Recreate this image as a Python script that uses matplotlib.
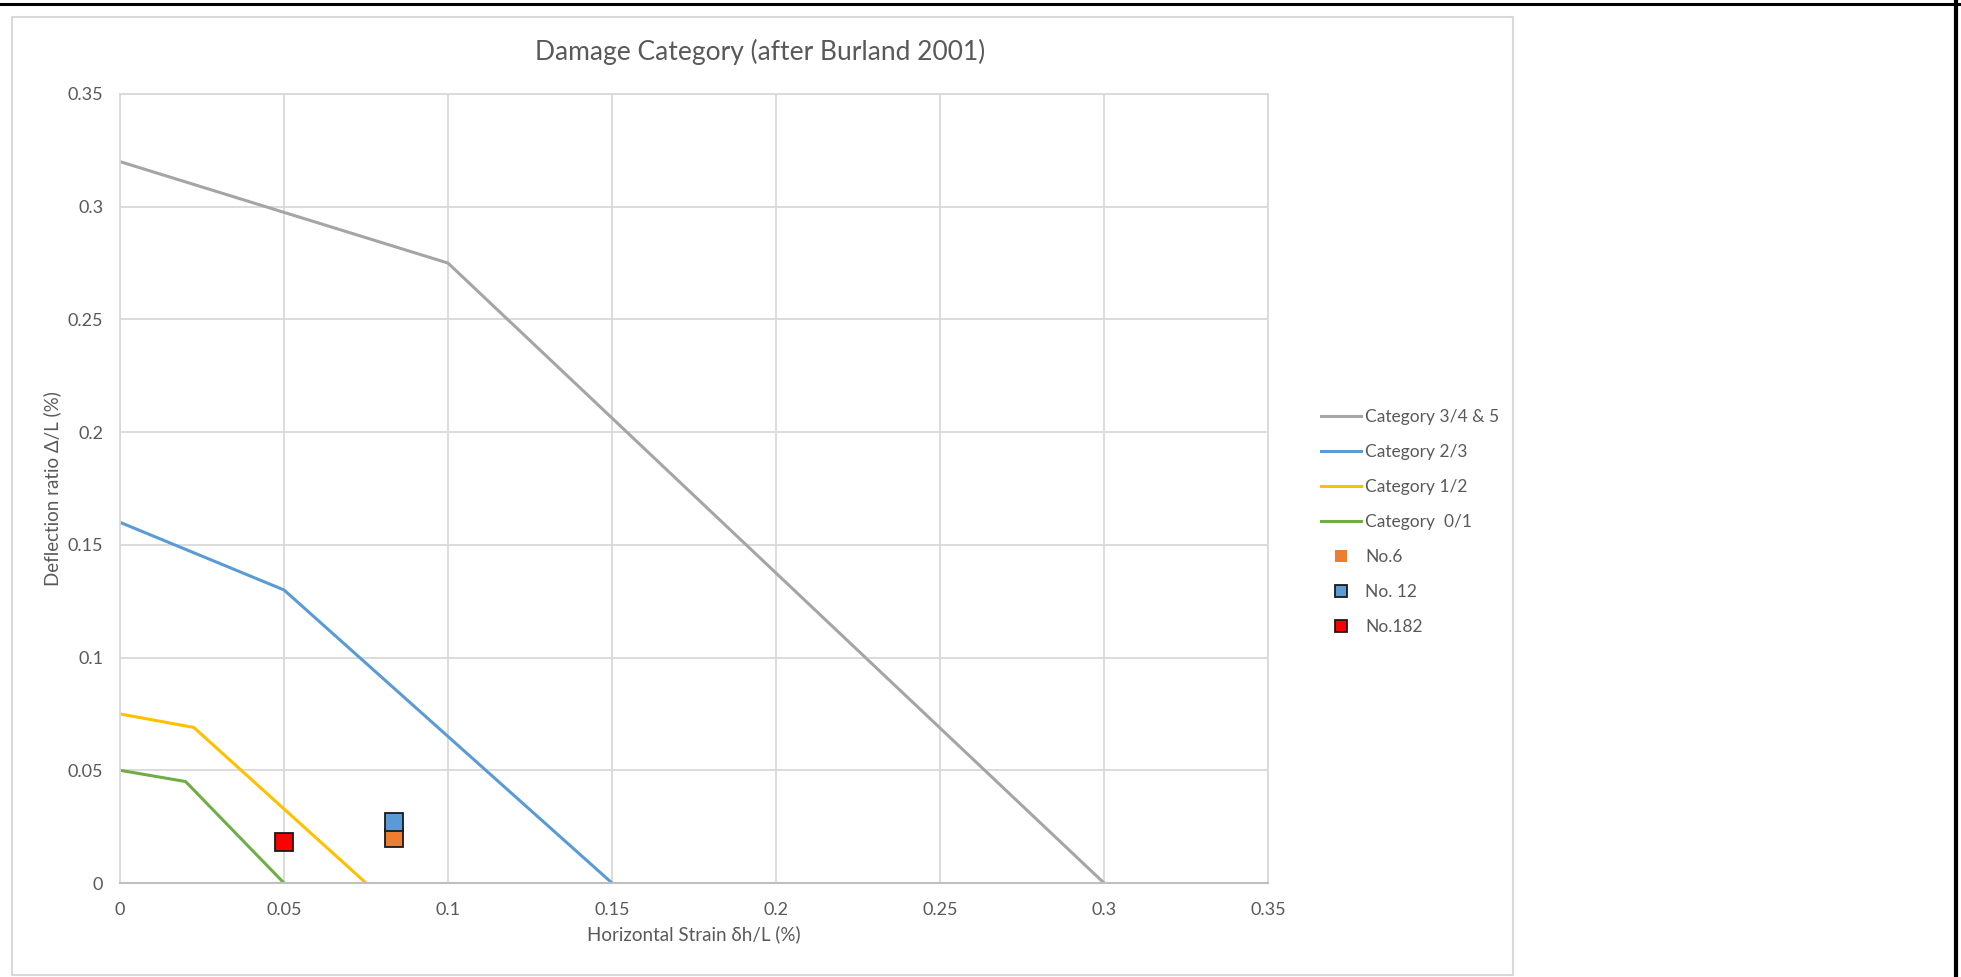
import matplotlib
matplotlib.use("Agg")
import matplotlib.pyplot as plt
from matplotlib.lines import Line2D
from matplotlib.patches import Rectangle
from matplotlib.ticker import FuncFormatter

plt.rcParams['font.family'] = ['Lato', 'DejaVu Sans']

# Damage category boundaries (Burland 2001): horizontal strain vs deflection ratio
cat345_x = [0.0, 0.1, 0.3]
cat345_y = [0.32, 0.275, 0.0]
cat23_x = [0.0, 0.05, 0.15]
cat23_y = [0.16, 0.13, 0.0]
cat12_x = [0.0, 0.0225, 0.075]
cat12_y = [0.075, 0.069, 0.0]
cat01_x = [0.0, 0.02, 0.05]
cat01_y = [0.05, 0.045, 0.0]

# Assessed buildings
no6_x, no6_y = [0.0835], [0.020]
no12_x, no12_y = [0.0835], [0.027]
no182_x, no182_y = [0.05], [0.018]

x_ticks = [0, 0.05, 0.1, 0.15, 0.2, 0.25, 0.3, 0.35]
y_ticks = [0, 0.05, 0.1, 0.15, 0.2, 0.25, 0.3, 0.35]

W, H = 1961, 977
fig = plt.figure(figsize=(W / 100, H / 100), dpi=100)
fig.patch.set_facecolor('white')

# outer frame lines and chart-area border
fig.add_artist(Line2D([0, W], [H - 4, H - 4], transform=None, color='black', lw=2.2))
fig.add_artist(Line2D([W - 5, W - 5], [0, H], transform=None, color='black', lw=3.0))
fig.add_artist(Rectangle((12 / W, 2 / H), (1513 - 12) / W, (960 - 2) / H,
                         transform=fig.transFigure, fill=False,
                         edgecolor='#D9D9D9', lw=1.5))

ax = fig.add_axes([120 / W, (H - 883) / H, (1268 - 120) / W, (883 - 94) / H])

text_col = '#595959'
grid_col = '#D9D9D9'

ax.plot(cat345_x, cat345_y, color='#A5A5A5', lw=2.2, label='Category 3/4 & 5')
ax.plot(cat23_x, cat23_y, color='#5B9BD5', lw=2.2, label='Category 2/3')
ax.plot(cat12_x, cat12_y, color='#FFC000', lw=2.2, label='Category 1/2')
ax.plot(cat01_x, cat01_y, color='#70AD47', lw=2.2, label='Category  0/1')

ms = 12.5
ax.plot(no6_x, no6_y, 's', color='#ED7D31', markeredgecolor='#1a1a1a',
        markeredgewidth=1.3, ms=ms, label='No.6', zorder=5)
ax.plot(no12_x, no12_y, 's', color='#5B9BD5', markeredgecolor='#1a1a1a',
        markeredgewidth=1.3, ms=ms, label='No. 12', zorder=6)
ax.plot(no182_x, no182_y, 's', color='#FF0000', markeredgecolor='#1a1a1a',
        markeredgewidth=1.3, ms=ms, label='No.182', zorder=6)

ax.set_xlim(0, 0.35)
ax.set_ylim(0, 0.35)
ax.set_xticks(x_ticks)
ax.set_yticks(y_ticks)
fmt = FuncFormatter(lambda v, p: '{:g}'.format(round(v, 4)))
ax.xaxis.set_major_formatter(fmt)
ax.yaxis.set_major_formatter(fmt)
ax.tick_params(length=0, labelsize=13, colors=text_col)
ax.tick_params(axis='x', pad=14)
ax.tick_params(axis='y', pad=12)
ax.grid(True, color=grid_col, lw=1.3)
ax.set_axisbelow(True)
for side in ['top', 'right', 'left']:
    ax.spines[side].set_color(grid_col)
    ax.spines[side].set_linewidth(1.3)
ax.spines['bottom'].set_color('#BFBFBF')
ax.spines['bottom'].set_linewidth(1.5)

fig.text(760 / W, (H - 52) / H, 'Damage Category (after Burland 2001)',
         fontsize=19, color=text_col, ha='center', va='center')

ax.set_xlabel('Horizontal Strain δh/L (%)', fontsize=13.5, color=text_col)
ax.set_ylabel('Deflection ratio Δ/L (%)', fontsize=13.5, color=text_col)
ax.xaxis.set_label_coords(0.5, (883 - 934) / 789)
ax.yaxis.set_label_coords((52 - 120) / 1148, 0.5)
ax.xaxis.label.set_va('center')
ax.yaxis.label.set_va('center')

leg = fig.legend(loc='center left', bbox_to_anchor=(1305 / W, (H - 522) / H),
                 frameon=False, fontsize=12.5, handlelength=2.3,
                 handletextpad=0.25, labelspacing=1.1, labelcolor=text_col)
leg.legend_handles[4].set_markeredgecolor('none')
for h in leg.legend_handles[4:]:
    h.set_markersize(9)

fig.savefig('out.png', dpi=100, facecolor='white')
